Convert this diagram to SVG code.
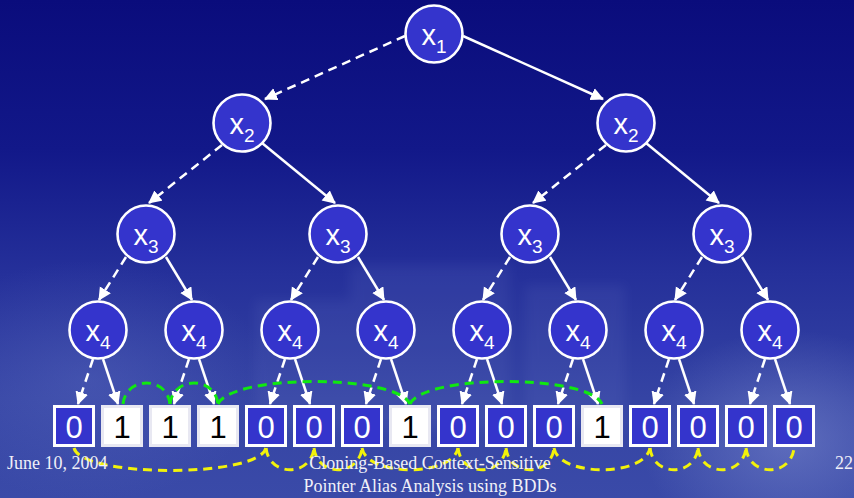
<svg xmlns="http://www.w3.org/2000/svg" width="854" height="498" viewBox="0 0 854 498">
  <defs>
    <linearGradient id="bg" x1="0" y1="0" x2="0" y2="1">
      <stop offset="0" stop-color="#0a0c7c"/>
      <stop offset="0.3" stop-color="#121889"/>
      <stop offset="0.55" stop-color="#25309a"/>
      <stop offset="0.8" stop-color="#3544a4"/>
      <stop offset="1" stop-color="#3a4aa8"/>
    </linearGradient>
    <radialGradient id="glowR" cx="0.5" cy="0.5" r="0.5">
      <stop offset="0" stop-color="#8c9ad8" stop-opacity="0.45"/>
      <stop offset="1" stop-color="#8c9ad8" stop-opacity="0"/>
    </radialGradient>
    <radialGradient id="glowL" cx="0.5" cy="0.5" r="0.5">
      <stop offset="0" stop-color="#6272c4" stop-opacity="0.35"/>
      <stop offset="1" stop-color="#6272c4" stop-opacity="0"/>
    </radialGradient>
    <filter id="soft" x="-20%" y="-20%" width="140%" height="140%">
      <feGaussianBlur stdDeviation="6"/>
    </filter>
    <marker id="arrow" markerUnits="userSpaceOnUse" markerWidth="14" markerHeight="14" refX="12" refY="6.5" orient="auto">
      <path d="M0,0 L13,6.5 L0,13 z" fill="#ffffff"/>
    </marker>
    <style>
      .node circle { fill: #3434cc; stroke: #ffffff; stroke-width: 2.6; }
      .node text { font-family: "Liberation Sans", Arial, sans-serif; fill: #ffffff; font-size: 29px; text-anchor: middle; }
      .node text tspan { font-size: 19px; }
      .edge { stroke: #ffffff; stroke-width: 2.5; fill: none; marker-end: url(#arrow); }
      .low { stroke-dasharray: 9 6; }
      .leaf rect { stroke-width: 3; }
      .zero rect { fill: #3434cc; stroke: #ffffff; }
      .one rect { fill: #ffffff; stroke: #e8e8f2; }
      .leaf text { font-family: "Liberation Sans", Arial, sans-serif; font-size: 31px; text-anchor: middle; }
      .zero text { fill: #ffffff; }
      .one text { fill: #000000; }
      .chain { fill: none; stroke-width: 3; stroke-dasharray: 9 6; }
      .green { stroke: #10e810; }
      .yellow { stroke: #f2f20a; }
      .foot { font-family: "Liberation Serif", "Times New Roman", serif; font-size: 18px; fill: #f0f0f8; }
    </style>
  </defs>

  <!-- backdrop -->
  <rect x="0" y="0" width="854" height="498" fill="url(#bg)"/>
  <ellipse cx="790" cy="440" rx="150" ry="110" fill="url(#glowR)"/>
  <ellipse cx="90" cy="380" rx="180" ry="120" fill="url(#glowL)"/>
  <g fill="#8391d4" opacity="0.1" filter="url(#soft)">
    <rect x="255" y="300" width="130" height="130"/>
    <rect x="350" y="265" width="160" height="165"/>
    <rect x="430" y="290" width="70" height="140"/>
    <rect x="525" y="285" width="100" height="145"/>
  </g>

  <!-- connectors -->
  <g id="connectors">
    <!-- x1 -> x2 -->
    <path class="edge low" d="M405,36 L265,99"/>
    <path class="edge" d="M463,36 L603,99"/>
    <!-- x2 -> x3 -->
    <path class="edge low" d="M222,145 L149,203"/>
    <path class="edge" d="M262,143 L335,203"/>
    <path class="edge low" d="M606,145 L533,203"/>
    <path class="edge" d="M646,143 L719,203"/>
    <!-- x3 -> x4 -->
    <path class="edge low" d="M126,257 L99,300"/>
    <path class="edge" d="M166,257 L192,300"/>
    <path class="edge low" d="M318,257 L291,300"/>
    <path class="edge" d="M358,257 L384,300"/>
    <path class="edge low" d="M510,257 L483,300"/>
    <path class="edge" d="M550,257 L576,300"/>
    <path class="edge low" d="M702,257 L675,300"/>
    <path class="edge" d="M742,257 L768,300"/>
    <!-- x4 -> terminals -->
    <path class="edge low" d="M93,359 L78,404"/>
    <path class="edge" d="M103,359 L118,404"/>
    <path class="edge low" d="M189,359 L174,404"/>
    <path class="edge" d="M199,359 L214,404"/>
    <path class="edge low" d="M285,359 L270,404"/>
    <path class="edge" d="M295,359 L310,404"/>
    <path class="edge low" d="M381,359 L366,404"/>
    <path class="edge" d="M391,359 L406,404"/>
    <path class="edge low" d="M477,359 L462,404"/>
    <path class="edge" d="M487,359 L502,404"/>
    <path class="edge low" d="M573,359 L558,404"/>
    <path class="edge" d="M583,359 L598,404"/>
    <path class="edge low" d="M669,359 L654,404"/>
    <path class="edge" d="M679,359 L694,404"/>
    <path class="edge low" d="M765,359 L750,404"/>
    <path class="edge" d="M775,359 L790,404"/>
  </g>

  <!-- nodes -->
  <g id="n1" class="node"><circle cx="434" cy="34" r="28.5"/><text x="434" y="45">x<tspan dy="8">1</tspan></text></g>
  <g id="n2a" class="node"><circle cx="242" cy="123" r="28.5"/><text x="242" y="134">x<tspan dy="8">2</tspan></text></g>
  <g id="n2b" class="node"><circle cx="626" cy="123" r="28.5"/><text x="626" y="134">x<tspan dy="8">2</tspan></text></g>
  <g id="n3a" class="node"><circle cx="146" cy="234" r="28.5"/><text x="146" y="245">x<tspan dy="8">3</tspan></text></g>
  <g id="n3b" class="node"><circle cx="338" cy="234" r="28.5"/><text x="338" y="245">x<tspan dy="8">3</tspan></text></g>
  <g id="n3c" class="node"><circle cx="530" cy="234" r="28.5"/><text x="530" y="245">x<tspan dy="8">3</tspan></text></g>
  <g id="n3d" class="node"><circle cx="722" cy="234" r="28.5"/><text x="722" y="245">x<tspan dy="8">3</tspan></text></g>
  <g id="n4a" class="node"><circle cx="98" cy="330" r="28.5"/><text x="98" y="341">x<tspan dy="8">4</tspan></text></g>
  <g id="n4b" class="node"><circle cx="194" cy="330" r="28.5"/><text x="194" y="341">x<tspan dy="8">4</tspan></text></g>
  <g id="n4c" class="node"><circle cx="290" cy="330" r="28.5"/><text x="290" y="341">x<tspan dy="8">4</tspan></text></g>
  <g id="n4d" class="node"><circle cx="386" cy="330" r="28.5"/><text x="386" y="341">x<tspan dy="8">4</tspan></text></g>
  <g id="n4e" class="node"><circle cx="482" cy="330" r="28.5"/><text x="482" y="341">x<tspan dy="8">4</tspan></text></g>
  <g id="n4f" class="node"><circle cx="578" cy="330" r="28.5"/><text x="578" y="341">x<tspan dy="8">4</tspan></text></g>
  <g id="n4g" class="node"><circle cx="674" cy="330" r="28.5"/><text x="674" y="341">x<tspan dy="8">4</tspan></text></g>
  <g id="n4h" class="node"><circle cx="770" cy="330" r="28.5"/><text x="770" y="341">x<tspan dy="8">4</tspan></text></g>

  <!-- terminal row -->
  <g id="t0" class="leaf zero"><rect x="54.5" y="406.5" width="39" height="39"/><text x="74" y="438">0</text></g>
  <g id="t1" class="leaf one"><rect x="102.5" y="406.5" width="39" height="39"/><text x="122" y="438">1</text></g>
  <g id="t2" class="leaf one"><rect x="150.5" y="406.5" width="39" height="39"/><text x="170" y="438">1</text></g>
  <g id="t3" class="leaf one"><rect x="198.5" y="406.5" width="39" height="39"/><text x="218" y="438">1</text></g>
  <g id="t4" class="leaf zero"><rect x="246.5" y="406.5" width="39" height="39"/><text x="266" y="438">0</text></g>
  <g id="t5" class="leaf zero"><rect x="294.5" y="406.5" width="39" height="39"/><text x="314" y="438">0</text></g>
  <g id="t6" class="leaf zero"><rect x="342.5" y="406.5" width="39" height="39"/><text x="362" y="438">0</text></g>
  <g id="t7" class="leaf one"><rect x="390.5" y="406.5" width="39" height="39"/><text x="410" y="438">1</text></g>
  <g id="t8" class="leaf zero"><rect x="438.5" y="406.5" width="39" height="39"/><text x="458" y="438">0</text></g>
  <g id="t9" class="leaf zero"><rect x="486.5" y="406.5" width="39" height="39"/><text x="506" y="438">0</text></g>
  <g id="t10" class="leaf zero"><rect x="534.5" y="406.5" width="39" height="39"/><text x="554" y="438">0</text></g>
  <g id="t11" class="leaf one"><rect x="582.5" y="406.5" width="39" height="39"/><text x="602" y="438">1</text></g>
  <g id="t12" class="leaf zero"><rect x="630.5" y="406.5" width="39" height="39"/><text x="650" y="438">0</text></g>
  <g id="t13" class="leaf zero"><rect x="678.5" y="406.5" width="39" height="39"/><text x="698" y="438">0</text></g>
  <g id="t14" class="leaf zero"><rect x="726.5" y="406.5" width="39" height="39"/><text x="746" y="438">0</text></g>
  <g id="t15" class="leaf zero"><rect x="774.5" y="406.5" width="39" height="39"/><text x="794" y="438">0</text></g>

  <!-- chains linking equal terminals -->
  <g id="chains">
    <path class="chain green" d="M123,404 C126,376 167,376 170,404"/>
    <path class="chain green" d="M170,404 C173,376 215,376 218,404"/>
    <path class="chain green" d="M218,404 C232,374 396,374 410,404"/>
    <path class="chain green" d="M410,404 C424,374 588,374 602,404"/>
    <path class="chain yellow" d="M74,448 C82,478 258,478 266,448"/>
    <path class="chain yellow" d="M266,448 C269,477 311,477 314,448"/>
    <path class="chain yellow" d="M314,448 C317,477 359,477 362,448"/>
    <path class="chain yellow" d="M362,448 C367,477 453,477 458,448"/>
    <path class="chain yellow" d="M458,448 C461,477 503,477 506,448"/>
    <path class="chain yellow" d="M506,448 C509,477 551,477 554,448"/>
    <path class="chain yellow" d="M554,448 C559,477 645,477 650,448"/>
    <path class="chain yellow" d="M650,448 C653,477 695,477 698,448"/>
    <path class="chain yellow" d="M698,448 C701,477 743,477 746,448"/>
    <path class="chain yellow" d="M746,448 C749,477 791,477 794,448"/>
  </g>

  <!-- footer -->
  <text class="foot" x="7" y="469">June 10, 2004</text>
  <text class="foot" x="430" y="469" text-anchor="middle">Cloning-Based Context-Sensitive</text>
  <text class="foot" x="430" y="492" text-anchor="middle">Pointer Alias Analysis using BDDs</text>
  <text class="foot" x="835" y="469">22</text>
</svg>
